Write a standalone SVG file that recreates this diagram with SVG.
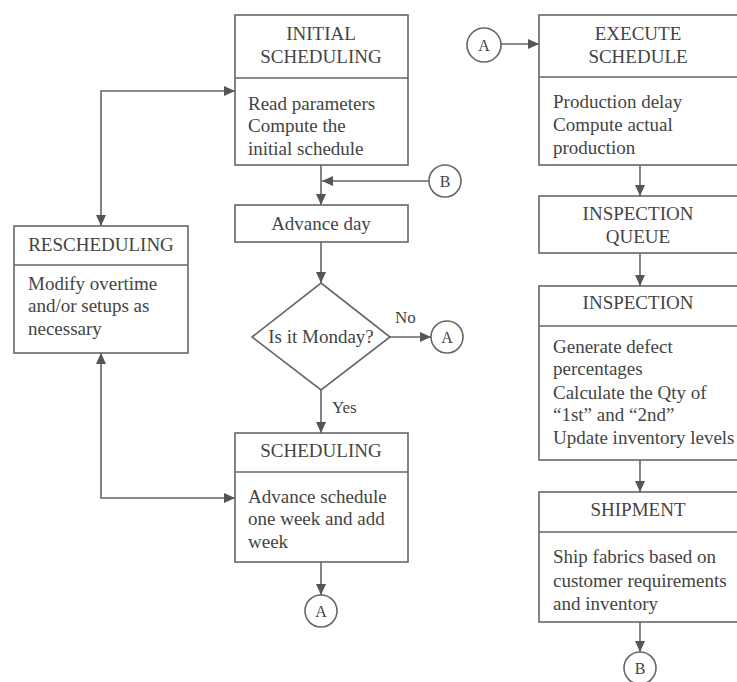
<svg xmlns="http://www.w3.org/2000/svg" width="737" height="682" viewBox="0 0 737 682">
<defs>
<marker id="ah" markerUnits="userSpaceOnUse" markerWidth="12" markerHeight="10" refX="11" refY="5" orient="auto-start-reverse">
<path d="M0,0 L11,5 L0,10 Z" fill="#555"/>
</marker>
<style>
.box{fill:none;stroke:#666;stroke-width:1.6}
.ln{fill:none;stroke:#666;stroke-width:1.6}
.t{font-family:"Liberation Serif","Times New Roman",serif;font-size:19px;fill:#444}
.c{text-anchor:middle}
.conn{fill:#fff;stroke:#666;stroke-width:1.6}
.ct{font-family:"Liberation Serif","Times New Roman",serif;font-size:16px;fill:#444;text-anchor:middle}
</style>
</defs>
<rect width="737" height="682" fill="#fff"/>

<g id="connectors">
<path class="ln" d="M321,165 V205" marker-end="url(#ah)"/>
<path class="ln" d="M429,181 H322" marker-end="url(#ah)"/>
<path class="ln" d="M321,242 V283" marker-end="url(#ah)"/>
<path class="ln" d="M390,337 H431" marker-end="url(#ah)"/>
<path class="ln" d="M321,390 V433" marker-end="url(#ah)"/>
<path class="ln" d="M321,562 V595" marker-end="url(#ah)"/>
<path class="ln" d="M235,91 H101 V226" marker-start="url(#ah)" marker-end="url(#ah)"/>
<path class="ln" d="M101,353 V498 H235" marker-start="url(#ah)" marker-end="url(#ah)"/>
<path class="ln" d="M501,44 H539" marker-end="url(#ah)"/>
<path class="ln" d="M640,165 V196" marker-end="url(#ah)"/>
<path class="ln" d="M640,253 V286" marker-end="url(#ah)"/>
<path class="ln" d="M640,460 V492" marker-end="url(#ah)"/>
<path class="ln" d="M640,622 V652" marker-end="url(#ah)"/>
<text class="t" x="395" y="323" style="font-size:17px">No</text>
<text class="t" x="332" y="413" style="font-size:17px">Yes</text>
</g>

<g id="initial-scheduling">
<rect class="box" x="235" y="15" width="173" height="150"/>
<line class="ln" x1="235" y1="78" x2="408" y2="78"/>
<text class="t c" x="321" y="40">INITIAL</text>
<text class="t c" x="321" y="63">SCHEDULING</text>
<text class="t" x="248" y="110">Read parameters</text>
<text class="t" x="248" y="132">Compute the</text>
<text class="t" x="248" y="155">initial schedule</text>
</g>

<g id="advance-day">
<rect class="box" x="235" y="205" width="173" height="37"/>
<text class="t c" x="321" y="230">Advance day</text>
</g>

<g id="is-monday">
<polygon class="box" points="321,283 390,337 321,390 252,337"/>
<text class="t c" x="321" y="343">Is it Monday?</text>
</g>

<g id="scheduling">
<rect class="box" x="235" y="433" width="173" height="129"/>
<line class="ln" x1="235" y1="472" x2="408" y2="472"/>
<text class="t c" x="321" y="457">SCHEDULING</text>
<text class="t" x="248" y="503">Advance schedule</text>
<text class="t" x="248" y="525">one week and add</text>
<text class="t" x="248" y="548">week</text>
</g>

<g id="rescheduling">
<rect class="box" x="14" y="226" width="174" height="127"/>
<line class="ln" x1="14" y1="265" x2="188" y2="265"/>
<text class="t c" x="101" y="251">RESCHEDULING</text>
<text class="t" x="28" y="290">Modify overtime</text>
<text class="t" x="28" y="312">and/or setups as</text>
<text class="t" x="28" y="335">necessary</text>
</g>

<g id="conn-b-top">
<circle class="conn" cx="445" cy="181" r="16"/>
<text class="ct" x="445" y="187">B</text>
</g>

<g id="conn-a-no">
<circle class="conn" cx="447" cy="337" r="16"/>
<text class="ct" x="447" y="343">A</text>
</g>

<g id="conn-a-bottom">
<circle class="conn" cx="321" cy="611" r="16"/>
<text class="ct" x="321" y="617">A</text>
</g>

<g id="conn-a-top">
<circle class="conn" cx="484" cy="45" r="17"/>
<text class="ct" x="484" y="51">A</text>
</g>

<g id="execute-schedule">
<rect class="box" x="539" y="15" width="210" height="150"/>
<line class="ln" x1="539" y1="77" x2="749" y2="77"/>
<text class="t c" x="638" y="40">EXECUTE</text>
<text class="t c" x="638" y="63">SCHEDULE</text>
<text class="t" x="553" y="108">Production delay</text>
<text class="t" x="553" y="131">Compute actual</text>
<text class="t" x="553" y="154">production</text>
</g>

<g id="inspection-queue">
<rect class="box" x="539" y="196" width="210" height="57"/>
<text class="t c" x="638" y="220">INSPECTION</text>
<text class="t c" x="638" y="243">QUEUE</text>
</g>

<g id="inspection">
<rect class="box" x="539" y="286" width="210" height="174"/>
<line class="ln" x1="539" y1="326" x2="749" y2="326"/>
<text class="t c" x="638" y="309">INSPECTION</text>
<text class="t" x="553" y="353">Generate defect</text>
<text class="t" x="553" y="375">percentages</text>
<text class="t" x="553" y="399">Calculate the Qty of</text>
<text class="t" x="553" y="421">“1st” and “2nd”</text>
<text class="t" x="553" y="444">Update inventory levels</text>
</g>

<g id="shipment">
<rect class="box" x="539" y="492" width="210" height="130"/>
<line class="ln" x1="539" y1="532" x2="749" y2="532"/>
<text class="t c" x="638" y="516">SHIPMENT</text>
<text class="t" x="553" y="563">Ship fabrics based on</text>
<text class="t" x="553" y="587">customer requirements</text>
<text class="t" x="553" y="610">and inventory</text>
</g>

<g id="conn-b-bottom">
<circle class="conn" cx="640" cy="668" r="16"/>
<text class="ct" x="640" y="674">B</text>
</g>
</svg>
